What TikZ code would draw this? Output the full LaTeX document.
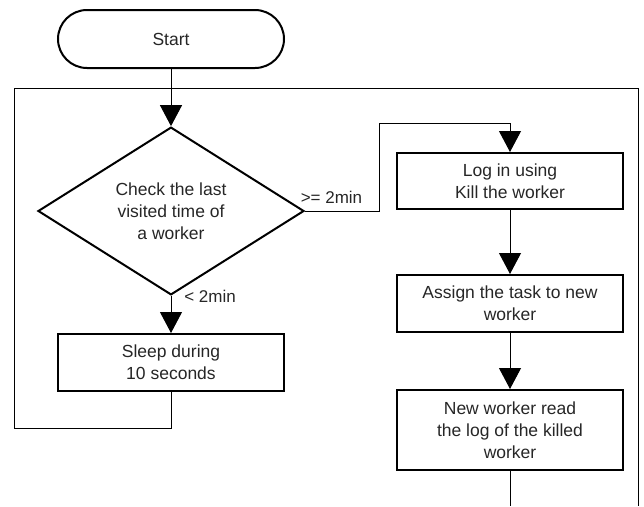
\documentclass[tikz,border=0pt]{standalone}
\usepackage{fontspec}
\setmainfont{Liberation Sans}
\usetikzlibrary{shapes.geometric,arrows.meta}
\begin{document}
\begin{tikzpicture}[x=1pt,y=-1pt,
  txt/.style={font=\fontsize{17.5}{22}\selectfont,text=black!85},
  box/.style={draw,line width=2pt,minimum width=226pt,align=center,txt,inner sep=0pt},
  term/.style={box,rounded corners=29pt,minimum height=58pt},
  decision/.style={draw,line width=2pt,diamond,minimum width=266pt,minimum height=142pt,inner sep=0pt,align=center,txt},
  conn/.style={line width=1pt},
  arr/.style={conn,-{Triangle[length=21pt,width=22pt]}},
  lbl/.style={font=\fontsize{17}{20}\selectfont,text=black!85}]
\useasboundingbox (0,0) rectangle (644,506);
\node[term] (start) at (171,39) {Start};
\node[decision] (dec) at (171,211) {Check the last\\visited time of\\a worker};
\node[box,minimum height=57pt] (sleep) at (171,362.5) {Sleep during\\10 seconds};
\node[box,minimum height=56pt] (log) at (510,181) {Log in using\\Kill the worker};
\node[box,minimum height=57pt] (assign) at (510,303.5) {Assign the task to new\\worker};
\node[box,minimum height=80pt] (new) at (510,430) {New worker read\\the log of the killed\\worker};
\coordinate (jr) at (379,211);
\coordinate (jt) at (379,123);
\coordinate (lb) at (171,428);
\coordinate (ll) at (14,428);
\coordinate (lt) at (14,88);
\coordinate (rt) at (638,88);
\coordinate (rb) at (638,506);
\coordinate (nb) at (510,506);
\draw[arr] (start) -- (dec);
\draw[arr] (dec.east) -- (jr) -- (jt) -| (log.north);
\draw[arr] (dec) -- (sleep);
\draw[conn] (sleep.south) -- (lb) -- (ll) -- (lt) -- (rt) -- (rb);
\draw[arr] (log) -- (assign);
\draw[arr] (assign) -- (new);
\draw[conn] (new.south) -- (nb);
\node[lbl] at (331.5,197) {>= 2min};
\node[lbl] at (210,296) {< 2min};
\end{tikzpicture}
\end{document}
